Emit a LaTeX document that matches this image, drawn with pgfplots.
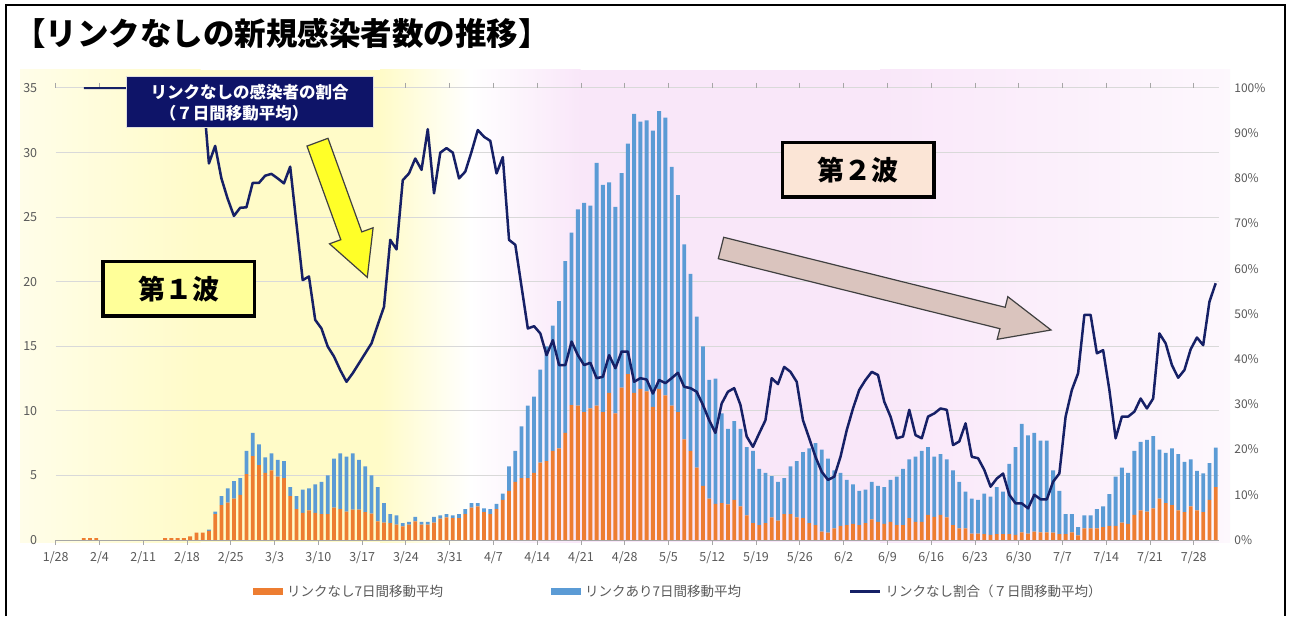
\documentclass[border=0pt]{standalone}
\usepackage{fontspec}
\setmainfont{Noto Sans CJK JP}
\usepackage{pgfplots}
\pgfplotsset{compat=1.18}
\usepackage{pgfplotstable}

\definecolor{orangeb}{RGB}{237,125,49}
\definecolor{blueb}{RGB}{91,155,213}
\definecolor{navyl}{RGB}{22,32,102}
\definecolor{navybox}{RGB}{14,20,104}
\definecolor{gridc}{RGB}{217,217,217}
\definecolor{labc}{RGB}{89,89,89}
\definecolor{yel}{RGB}{255,251,200}
\definecolor{pnk}{RGB}{249,231,249}
\definecolor{waveA}{RGB}{255,255,153}
\definecolor{waveB}{RGB}{251,229,214}
\definecolor{arrpink}{RGB}{218,196,190}
\definecolor{arryel}{RGB}{255,255,40}

% d = day index from 1/28; o = link-less 7-day avg; b = linked 7-day avg
\pgfplotstableread{
d o b
4 0.14 0
5 0.14 0
6 0.14 0
17 0.14 0
18 0.14 0
19 0.14 0
20 0.14 0
21 0.29 0
22 0.57 0
23 0.57 0
24 0.71 0.1
25 2.0 0.2
26 2.7 0.7
27 2.9 1.1
28 3.2 1.35
29 3.5 1.3
30 5.1 1.8
31 6.5 1.8
32 5.8 1.6
33 5.2 1.2
34 5.4 1.3
35 4.9 1.3
36 4.8 1.3
37 3.4 0.7
38 2.4 1.0
39 2.1 1.8
40 2.3 1.7
41 2.1 2.2
42 2.0 2.5
43 2.0 3.0
44 2.5 3.8
45 2.4 4.3
46 2.2 4.25
47 2.35 4.35
48 2.35 3.85
49 2.15 3.55
50 2.05 2.95
51 1.45 2.65
52 1.35 1.5
53 1.3 0.7
54 1.2 0.7
55 1.05 0.25
56 1.2 0.2
57 1.45 0.35
58 1.2 0.2
59 1.2 0.2
60 1.35 0.45
61 1.65 0.25
62 1.75 0.25
63 1.7 0.2
64 1.7 0.3
65 2.0 0.4
66 2.5 0.35
67 2.6 0.25
68 2.15 0.3
69 2.0 0.4
70 2.4 0.4
71 3.1 0.5
72 3.8 1.9
73 4.5 2.4
74 4.8 4.0
75 4.8 5.6
76 5.2 5.9
77 6.0 7.2
78 6.1 8.9
79 6.9 9.7
80 7.1 11.4
81 8.3 13.3
82 10.45 13.35
83 10.4 15.2
84 9.9 16.2
85 10.2 15.7
86 10.4 18.8
87 9.9 17.6
88 11.4 16.3
89 9.8 16.0
90 11.8 16.6
91 12.85 17.85
92 11.4 21.6
93 11.7 20.7
94 11.5 21.0
95 10.3 21.4
96 11.7 21.5
97 11.2 21.5
98 10.4 18.5
99 9.9 16.8
100 7.8 15.1
101 6.9 13.7
102 5.6 11.7
103 4.2 10.8
104 3.2 9.2
105 2.8 9.7
106 2.85 6.95
107 2.75 5.85
108 3.1 6.1
109 2.6 6.0
110 1.9 5.3
111 1.3 5.6
112 1.15 4.35
113 1.3 3.9
114 1.75 3.2
115 1.5 3.0
116 2.0 2.8
117 2.0 3.7
118 1.75 4.35
119 1.7 5.1
120 1.3 5.8
121 1.15 6.35
122 0.65 6.35
123 0.57 5.73
124 0.9 4.5
125 1.1 4.1
126 1.15 3.5
127 1.25 3.05
128 1.15 2.65
129 1.3 2.6
130 1.6 2.9
131 1.4 2.8
132 1.25 2.85
133 1.4 3.25
134 1.15 3.75
135 1.15 4.35
136 1.7 4.55
137 1.4 5.05
138 1.4 5.5
139 1.95 5.25
140 1.8 4.65
141 1.95 4.7
142 1.75 4.5
143 1.15 4.25
144 0.9 3.6
145 0.9 2.85
146 0.5 2.7
147 0.5 2.6
148 0.45 3.15
149 0.4 2.95
150 0.45 3.65
151 0.45 3.3
152 0.45 5.45
153 0.4 6.8
154 0.6 8.4
155 0.5 7.6
156 0.65 7.65
157 0.6 7.1
158 0.6 7.1
159 0.57 4.83
160 0.45 3.35
161 0.45 1.55
162 0.6 1.4
163 0.35 0.65
164 0.9 1.0
165 0.9 1.0
166 0.9 1.5
167 1.0 1.6
168 1.1 2.45
169 1.1 3.8
170 1.35 4.25
171 1.25 3.95
172 1.95 4.95
173 2.3 5.3
174 2.2 5.55
175 2.45 5.6
176 3.2 3.8
177 2.85 3.9
178 2.7 4.4
179 2.3 4.35
180 2.15 3.9
181 2.6 3.65
182 2.3 3.05
183 2.15 3.0
184 3.1 2.85
185 4.1 3.05
}\bars

% p = share of link-less cases, 7-day avg (%)
\pgfplotstableread{
d p
4 100
5 100
6 100
7 100
8 100
9 100
10 100
11 100
12 100
13 100
14 100
15 100
16 100
17 100
18 100
19 100
20 100
21 100
22 100
23 100
24 83.3
25 87.2
26 80.0
27 75.5
28 71.7
29 73.5
30 73.6
31 79.0
32 79.0
33 80.6
34 81.0
35 80.0
36 78.9
37 82.6
38 70.0
39 57.5
40 58.3
41 48.7
42 46.8
43 42.8
44 40.6
45 37.6
46 35.0
47 36.9
48 39.1
49 41.3
50 43.5
51 47.6
52 51.6
53 66.4
54 64.3
55 79.6
56 81.1
57 84.4
58 81.9
59 90.9
60 76.7
61 85.7
62 86.7
63 85.7
64 80.0
65 81.5
66 85.9
67 90.7
68 89.2
69 88.3
70 81.1
71 84.7
72 66.4
73 65.3
74 56.0
75 46.8
76 47.3
77 45.7
78 40.9
79 44.2
80 38.7
81 38.7
82 43.9
83 40.9
84 38.7
85 39.2
86 35.8
87 36.1
88 40.9
89 38.0
90 41.7
91 41.7
92 35.0
93 35.8
94 35.5
95 32.4
96 35.4
97 34.7
98 35.8
99 37.0
100 33.9
101 33.6
102 32.8
103 29.9
104 26.5
105 23.7
106 30.2
107 32.8
108 33.6
109 29.9
110 22.9
111 20.6
112 23.6
113 26.5
114 35.8
115 34.5
116 38.3
117 37.2
118 35.0
119 26.5
120 22.5
121 18.4
122 15.1
123 13.3
124 14.0
125 18.4
126 24.3
127 29.1
128 33.2
129 35.4
130 37.2
131 36.5
132 30.6
133 27.3
134 22.5
135 22.9
136 28.8
137 23.2
138 22.5
139 27.3
140 28.0
141 29.1
142 28.8
143 21.0
144 21.8
145 25.8
146 18.4
147 18.1
148 15.5
149 11.8
150 13.6
151 14.7
152 10.0
153 8.1
154 8.1
155 7.0
156 10.0
157 9.0
158 9.0
159 12.9
160 14.7
161 27.3
162 33.2
163 36.9
164 49.8
165 49.8
166 41.3
167 42.0
168 33.2
169 22.5
170 27.3
171 27.3
172 28.4
173 31.3
174 29.1
175 31.3
176 45.7
177 43.5
178 38.7
179 35.9
180 37.6
181 42.2
182 44.8
183 43.1
184 52.7
185 56.8
}\ratio

\begin{document}
\begin{tikzpicture}
\fill[white] (0pt,0pt) rectangle (1292pt,-616pt);
% background tint
\shade[left color=white!60!yel, right color=yel] (20pt,-70pt) rectangle (200.5pt,-542pt);
\fill[yel] (200pt,-70pt) rectangle (380.5pt,-542pt);
\shade[left color=yel, right color=white] (380pt,-70pt) rectangle (470.5pt,-542pt);
\shade[left color=white, right color=pnk] (470pt,-70pt) rectangle (580.5pt,-542pt);
\fill[pnk] (580pt,-70pt) rectangle (880.5pt,-542pt);
\shade[left color=pnk, right color=white!70!pnk] (880pt,-70pt) rectangle (1230pt,-542pt);
% frame
\draw[line width=2pt] (6pt,-616pt) -- (6pt,-5pt) -- (1285pt,-5pt) -- (1285pt,-616pt);

\begin{scope}[shift={(55.7pt,-540pt)}]
\begin{axis}[
  scale only axis,
  width=1163.1pt, height=452pt,
  xmin=0, xmax=186, ymin=0, ymax=35,
  ytick={0,5,...,35},
  xtick={0,7,...,182},
  xticklabels={1/28,2/4,2/11,2/18,2/25,3/3,3/10,3/17,3/24,3/31,4/7,4/14,4/21,4/28,5/5,5/12,5/19,5/26,6/2,6/9,6/16,6/23,6/30,7/7,7/14,7/21,7/28},
  ymajorgrids, grid style={gridc, line width=1pt},
  axis line style={draw=none},
  tick align=outside, major tick length=5pt,
  xtick style={draw=black!35, line width=0.8pt},
  ytick style={draw=none},
  ticklabel style={font=\fontsize{12.5}{14}\selectfont, text=labc},
  xticklabel style={yshift=-3pt},
  yticklabel style={xshift=-10pt},
  /pgf/number format/assume math mode=true,
  ybar stacked, bar width=3.8pt,
  legend style={at={(0.167,-0.114)}, anchor=west, draw=none, fill=none,
    legend columns=3, font=\fontsize{13.5}{16}\selectfont, text=labc,
    /tikz/every even column/.append style={column sep=12pt},
    /tikz/every odd column/.append style={column sep=2pt}},
]
\draw[black!35, line width=1pt] (axis cs:0,0) -- (axis cs:186,0);
\addplot[fill=orangeb, draw=none,
  legend image code/.code={\fill[orangeb] (0pt,-3.5pt) rectangle (30pt,3.5pt);}]
  table[x expr=\thisrow{d}+0.5, y=o]{\bars};
\addlegendentry{\makebox[250pt][l]{リンクなし7日間移動平均}}
\addplot[fill=blueb, draw=none,
  legend image code/.code={\fill[blueb] (0pt,-3.5pt) rectangle (30pt,3.5pt);}]
  table[x expr=\thisrow{d}+0.5, y=b]{\bars};
\addlegendentry{\makebox[250pt][l]{リンクあり7日間移動平均}}
\addlegendimage{legend image code/.code={\draw[navyl, line width=2.5pt] (0pt,0pt) -- (30pt,0pt);}}
\addlegendentry{リンクなし割合（７日間移動平均）}
\end{axis}

\begin{axis}[
  scale only axis,
  width=1163.1pt, height=452pt,
  xmin=0, xmax=186, ymin=0, ymax=100,
  axis x line=none, axis y line*=right, axis line style={draw=none},
  ytick={0,10,...,100},
  yticklabel={\pgfmathprintnumber{\tick}\%},
  ytick style={draw=none},
  yticklabel style={font=\fontsize{12}{14}\selectfont, text=labc, xshift=12pt},
  /pgf/number format/assume math mode=true,
]
\addplot[navyl, line width=2.5pt, line join=round, mark=none]
  table[x expr=\thisrow{d}+0.5, y=p]{\ratio};
\end{axis}
\end{scope}

% title
\node[anchor=west, inner sep=0pt, font=\bfseries\fontsize{31.5}{34}\selectfont] at (14pt,-33pt) {【リンクなしの新規感染者数の推移】};

% navy label box
\filldraw[fill=navybox, draw=white!75!gray, line width=0.8pt] (126pt,-76pt) rectangle (373pt,-127pt);
\node[text=white, font=\bfseries\fontsize{16.5}{18}\selectfont] at (249.5pt,-92pt) {リンクなしの感染者の割合};
\node[text=white, font=\bfseries\fontsize{16.5}{18}\selectfont] at (234pt,-113pt) {（７日間移動平均）};

% yellow arrow
\filldraw[fill=arryel, draw=black!75, line width=1.2pt, line join=miter]
  (307pt,-146.1pt) -- (328pt,-138.3pt) -- (361.8pt,-231.9pt) -- (373.1pt,-227.8pt) -- (367.3pt,-277.3pt) -- (329.5pt,-243.8pt) -- (340.8pt,-239.7pt) -- cycle;

% pink arrow
\filldraw[fill=arrpink, draw=black!75, line width=1.2pt, line join=miter]
  (723.7pt,-237.3pt) -- (1005.2pt,-307.3pt) -- (1007.8pt,-296.7pt) -- (1051pt,-330pt) -- (997.2pt,-339.3pt) -- (999.9pt,-328.7pt) -- (718.3pt,-258.7pt) -- cycle;

% wave boxes
\node[draw=black, line width=3.5pt, fill=waveA, minimum width=151.5pt, minimum height=54.5pt,
  font=\bfseries\fontsize{27}{30}\selectfont] at (178.5pt,-289pt) {第１波};
\node[draw=black, line width=3.5pt, fill=waveB, minimum width=151.5pt, minimum height=54.5pt,
  font=\bfseries\fontsize{27}{30}\selectfont] at (858pt,-170pt) {第２波};
\end{tikzpicture}
\end{document}
